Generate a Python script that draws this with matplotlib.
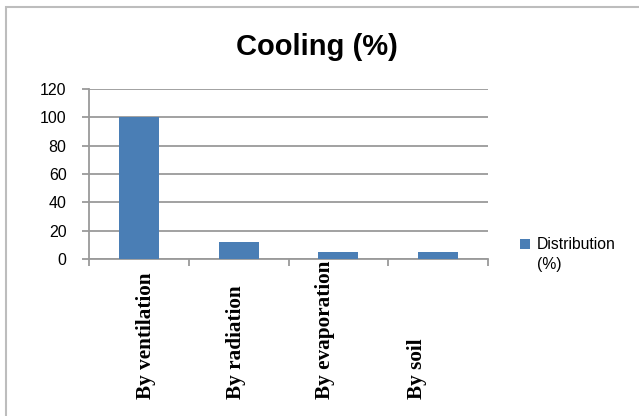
import matplotlib.pyplot as plt
from matplotlib.patches import Rectangle

# Share of cooling by mechanism
categories = ['By ventilation', 'By radiation', 'By evaporation', 'By soil']
distribution = [100, 12, 5, 5]
y_ticks = [0, 20, 40, 60, 80, 100, 120]
series_name = 'Distribution'
series_unit = '(%)'

bar_color = '#4A7EB5'
grid_color = '#9a9a9a'

fig = plt.figure(figsize=(6.39, 4.16), dpi=100)
fig.patch.set_facecolor('white')

# light frame around the chart area
fig.patches.append(Rectangle((0.0094, -0.1), 1.2, 1.083, transform=fig.transFigure,
                             fill=False, edgecolor='#bdbdbd', linewidth=1.5))

ax = fig.add_axes([0.139, 0.377, 0.625, 0.409])
x = list(range(len(categories)))
ax.bar(x, distribution, width=0.4, color=bar_color, zorder=3, label=series_name)

ax.set_ylim(0, 120)
ax.set_xlim(-0.5, len(categories) - 0.5)
ax.set_yticks(y_ticks)
ax.set_yticklabels([str(v) for v in y_ticks], fontsize=11.5, family='Liberation Sans')
ax.yaxis.grid(True, color=grid_color, linewidth=1.3, zorder=0)

# category separators as ticks on the x axis
ax.set_xticks([i - 0.5 for i in range(len(categories) + 1)])
ax.set_xticklabels([])
ax.tick_params(axis='x', length=5, color=grid_color, width=1.3)
ax.tick_params(axis='y', length=5, color=grid_color, width=1.3, pad=11)

for side in ['top', 'right']:
    ax.spines[side].set_visible(False)
for side in ['left', 'bottom']:
    ax.spines[side].set_color(grid_color)
    ax.spines[side].set_linewidth(1.3)

# rotated category names, anchored at their start
label_shift = [0.07, -0.03, -0.13, -0.21]
for i, name in enumerate(categories):
    ax.text(i + label_shift[i], -0.82, name, rotation=90, ha='center', va='bottom',
            transform=ax.get_xaxis_transform(), fontsize=15.3, fontweight='bold',
            family='Liberation Serif')

fig.text(0.496, 0.888, 'Cooling (%)', ha='center', va='center', fontsize=21,
         fontweight='bold', family='Liberation Sans')

leg = ax.legend(loc='center left', bbox_to_anchor=(1.065, 0.085), frameon=False,
                prop={'family': 'Liberation Sans', 'size': 11.3},
                handlelength=0.6, handleheight=0.6, handletextpad=0.45,
                borderaxespad=0)
fig.text(0.841, 0.363, series_unit, ha='left', va='center', fontsize=11.3,
         family='Liberation Sans')

fig.savefig('out.png', dpi=100)
